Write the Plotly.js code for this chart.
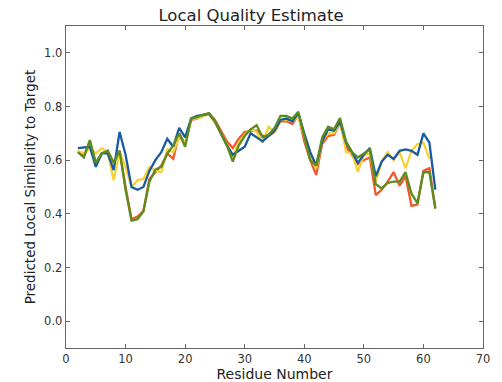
<!DOCTYPE html>
<html>
<head>
<meta charset="utf-8">
<script src="https://cdn.plot.ly/plotly-3.0.1.min.js"></script>
<style>html,body{margin:0;padding:0;background:#fff;}#chart{width:502px;height:382px;}</style>
</head>
<body>
<div id="chart"></div>
<script>
const residues = [2,3,4,5,6,7,8,9,10,11,12,13,14,15,16,17,18,19,20,21,22,23,24,25,26,27,28,29,30,31,32,33,34,35,36,37,38,39,40,41,42,43,44,45,46,47,48,49,50,51,52,53,54,55,56,57,58,59,60,61,62];

const blueSeries = [0.645,0.647,0.65,0.575,0.625,0.625,0.563,0.705,0.62,0.50,0.49,0.50,0.56,0.60,0.63,0.68,0.65,0.72,0.685,0.755,0.765,0.768,0.773,0.745,0.70,0.655,0.62,0.635,0.65,0.70,0.685,0.67,0.69,0.71,0.75,0.755,0.745,0.775,0.70,0.63,0.58,0.67,0.715,0.71,0.745,0.665,0.63,0.59,0.62,0.645,0.54,0.595,0.62,0.605,0.635,0.64,0.635,0.62,0.70,0.665,0.49];

const redSeries = [0.63,0.615,0.67,0.59,0.625,0.635,0.59,0.635,0.50,0.38,0.39,0.41,0.53,0.555,0.58,0.625,0.605,0.70,0.66,0.75,0.755,0.765,0.775,0.75,0.71,0.67,0.645,0.68,0.705,0.71,0.71,0.69,0.69,0.705,0.745,0.745,0.735,0.77,0.67,0.60,0.545,0.66,0.69,0.695,0.74,0.65,0.62,0.585,0.60,0.61,0.47,0.49,0.52,0.555,0.505,0.54,0.43,0.435,0.56,0.57,0.42];

const yellowSeries = [0.635,0.625,0.645,0.625,0.645,0.63,0.525,0.63,0.575,0.50,0.525,0.53,0.575,0.56,0.555,0.64,0.63,0.685,0.665,0.755,0.755,0.765,0.77,0.74,0.70,0.66,0.615,0.665,0.695,0.715,0.705,0.665,0.725,0.705,0.75,0.75,0.745,0.765,0.69,0.61,0.57,0.67,0.70,0.70,0.745,0.63,0.625,0.556,0.62,0.625,0.52,0.595,0.63,0.60,0.63,0.57,0.635,0.66,0.665,0.605,null];

const greenSeries = [0.63,0.61,0.675,0.59,0.625,0.635,0.59,0.635,0.49,0.375,0.38,0.41,0.52,0.565,0.575,0.625,0.655,0.70,0.65,0.755,0.76,0.77,0.775,0.745,0.70,0.655,0.595,0.655,0.69,0.715,0.73,0.685,0.695,0.72,0.765,0.765,0.755,0.78,0.69,0.60,0.58,0.685,0.725,0.715,0.757,0.67,0.63,0.61,0.625,0.64,0.51,0.495,0.515,0.52,0.52,0.555,0.475,0.44,0.555,0.555,0.42];

const xTicks = [0,10,20,30,40,50,60,70];
const yTicks = [0.0,0.2,0.4,0.6,0.8,1.0];

const colors = {blue:'#1a5aa0', red:'#f05a2a', yellow:'#f7d236', green:'#5a8c1e'};

function mk(y, c){
  return {x: residues, y: y, type:'scatter', mode:'lines', line:{color:c, width:2.3}, hoverinfo:'skip', connectgaps:false};
}

const data = [mk(redSeries, colors.red), mk(yellowSeries, colors.yellow), mk(blueSeries, colors.blue), mk(greenSeries, colors.green)];

const axisCommon = {
  showline:true, linecolor:'#666', linewidth:1.3, mirror:'ticks',
  ticks:'inside', ticklen:4, tickwidth:1, tickcolor:'#666',
  showgrid:false, zeroline:false,
  tickfont:{family:'DejaVu Sans', size:11.5, color:'#333'}
};

const layout = {
  width:502, height:382,
  margin:{l:66, r:19, t:26, b:34},
  paper_bgcolor:'#fff', plot_bgcolor:'#fff',
  showlegend:false,
  title:{text:'Local Quality Estimate', font:{family:'DejaVu Sans', size:16.5, color:'#222'}, x:0.5, xanchor:'center', y:1-15/382, yref:'container', yanchor:'middle'},
  xaxis: Object.assign({}, axisCommon, {
    range:[0,70], tickvals:xTicks, ticktext:xTicks.map(String),
    title:{text:'Residue Number', font:{family:'DejaVu Sans', size:14, color:'#222'}, standoff:1}
  }),
  yaxis: Object.assign({}, axisCommon, {
    range:[-0.1,1.1], tickvals:yTicks, ticktext:yTicks.map(v=>v.toFixed(1)),
    title:{text:'Predicted Local Similarity to Target', font:{family:'DejaVu Sans', size:13.5, color:'#222'}, standoff:5}
  })
};

Plotly.newPlot('chart', data, layout, {displayModeBar:false, staticPlot:true});
</script>
</body>
</html>
